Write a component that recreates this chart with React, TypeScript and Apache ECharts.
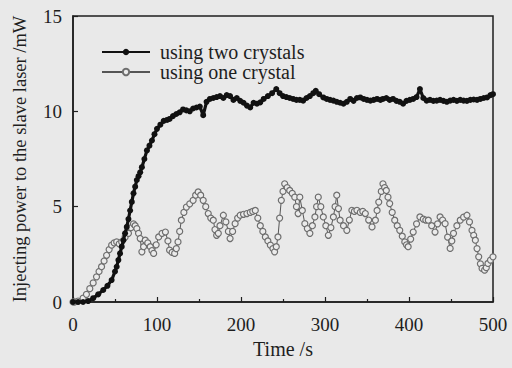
import React, { useEffect, useRef } from "react";
import * as echarts from "echarts";

const xTicks = [0, 100, 200, 300, 400, 500];
const yTicks = [0, 5, 10, 15];

const twoT = [0, 6, 12, 18, 24, 30, 36, 41, 46, 50, 52, 54, 56, 58, 60, 62, 64, 66, 68, 70, 72, 74, 76, 78, 80, 82, 85, 88, 91, 94, 97, 100, 104, 108, 112, 115, 119, 123, 127, 131, 135, 139, 143, 147, 151, 155, 159, 163, 167, 171, 175, 179, 183, 187, 191, 195, 199, 203, 207, 211, 215, 219, 223, 227, 232, 237, 242, 246, 250, 254, 258, 262, 266, 270, 274, 278, 282, 286, 289, 293, 298, 302, 306, 310, 314, 318, 322, 326, 330, 334, 338, 342, 346, 350, 354, 358, 362, 366, 369, 373, 377, 381, 385, 389, 393, 397, 401, 405, 409, 413, 417, 421, 425, 429, 433, 437, 441, 445, 449, 453, 457, 461, 465, 469, 473, 477, 481, 485, 489, 493, 497, 500];
const twoY = [0, 0, 0, 0.05, 0.2, 0.4, 0.63, 0.85, 1.15, 1.6, 1.85, 2.2, 2.55, 2.9, 3.24, 3.6, 3.94, 4.35, 4.8, 5.25, 5.7, 6.05, 6.4, 6.6, 6.8, 7.07, 7.5, 7.95, 8.2, 8.47, 8.8, 9.08, 9.3, 9.5, 9.55, 9.6, 9.75, 9.86, 9.95, 10.1, 10.05, 10.0, 10.15, 10.2, 10.25, 9.8, 10.5, 10.65, 10.7, 10.75, 10.8, 10.7, 10.85, 10.8, 10.6, 10.7, 10.55, 10.45, 10.3, 10.2, 10.45, 10.4, 10.47, 10.65, 10.8, 10.95, 11.17, 10.95, 10.8, 10.75, 10.7, 10.65, 10.6, 10.6, 10.56, 10.7, 10.8, 10.95, 11.08, 10.9, 10.73, 10.65, 10.6, 10.56, 10.5, 10.45, 10.4, 10.5, 10.65, 10.55, 10.7, 10.73, 10.65, 10.6, 10.56, 10.6, 10.65, 10.6, 10.65, 10.7, 10.6, 10.65, 10.55, 10.5, 10.4, 10.55, 10.6, 10.65, 10.75, 11.17, 10.7, 10.56, 10.6, 10.55, 10.56, 10.6, 10.55, 10.5, 10.56, 10.6, 10.55, 10.6, 10.56, 10.55, 10.6, 10.62, 10.6, 10.65, 10.7, 10.73, 10.85, 10.9];

const oneT = [0, 2, 6, 12, 16, 20, 24, 28, 31, 34, 37, 40, 43, 46, 49, 52, 55, 58, 62, 66, 69, 72, 74, 76, 78, 80, 82, 84, 86, 89, 92, 94, 96, 99, 102, 106, 110, 113, 115, 118, 121, 123, 125, 127, 129, 132, 135, 139, 143, 146, 149, 152, 155, 158, 161, 164, 167, 169, 171, 173, 175, 179, 182, 185, 187, 190, 193, 196, 199, 203, 207, 211, 214, 217, 220, 223, 226, 229, 232, 235, 238, 240, 242, 244, 246, 248, 250, 252, 255, 258, 261, 264, 266, 268, 270, 273, 276, 279, 282, 285, 288, 290, 292, 295, 298, 301, 304, 307, 310, 312, 314, 316, 318, 322, 326, 329, 332, 335, 338, 342, 345, 348, 352, 356, 360, 362, 364, 367, 369, 371, 373, 375, 377, 380, 383, 386, 389, 392, 395, 397, 399, 402, 405, 409, 413, 417, 420, 423, 427, 431, 434, 437, 440, 443, 446, 449, 451, 453, 457, 461, 465, 469, 472, 475, 477, 479, 481, 483, 485, 487, 490, 492, 494, 497, 500];
const oneY = [0, 0, 0.05, 0.2, 0.4, 0.7, 1.0, 1.32, 1.6, 1.85, 2.15, 2.45, 2.75, 2.98, 3.1, 3.15, 3.05, 3.15, 3.4, 3.6, 3.9, 4.1, 4.0, 3.85, 3.6, 3.33, 2.63, 2.9, 3.24, 3.1, 2.9, 2.7, 2.55, 3.0, 3.41, 3.6, 3.67, 3.2, 2.72, 2.6, 2.55, 2.8, 3.15, 3.7, 4.29, 4.7, 4.98, 5.15, 5.33, 5.6, 5.77, 5.6, 5.33, 5.0, 4.64, 4.4, 4.29, 3.8, 3.5, 3.6, 4.0, 4.55, 4.2, 3.7, 3.33, 3.7, 4.11, 4.4, 4.55, 4.6, 4.64, 4.7, 4.75, 4.8, 4.4, 4.0, 3.7, 3.41, 3.2, 2.98, 2.8, 2.63, 2.9, 3.41, 4.4, 5.33, 5.8, 6.2, 6.0, 5.85, 5.7, 5.5, 5.0, 4.64, 5.5, 4.8, 4.11, 3.85, 3.6, 4.0, 4.46, 5.0, 5.5, 5.0, 4.46, 4.0, 3.5, 3.9, 4.46, 5.0, 5.6, 4.9, 4.29, 4.0, 3.76, 4.3, 4.81, 4.75, 4.81, 4.7, 4.75, 4.64, 4.3, 3.94, 4.29, 4.8, 5.24, 5.8, 6.2, 6.0, 5.85, 5.5, 5.16, 4.7, 4.29, 4.0, 3.76, 3.45, 3.15, 3.0, 2.9, 3.3, 3.67, 4.1, 4.46, 4.35, 4.3, 4.29, 4.0, 3.67, 4.1, 4.46, 4.3, 4.11, 3.4, 2.81, 3.2, 3.6, 4.0, 4.29, 4.45, 4.55, 4.2, 3.76, 3.5, 3.24, 2.8, 2.37, 2.0, 1.76, 1.67, 1.8, 2.02, 2.2, 2.37];

const seriesNames = ["using two crystals", "using one crystal"];

const FONT = "'Liberation Serif', 'Times New Roman', 'DejaVu Serif', serif";
const INK = "#1e1e1e";

export default function App() {
  const ref = useRef<HTMLDivElement>(null);
  useEffect(() => {
    if (!ref.current) return;
    const chart = echarts.init(ref.current, null, { renderer: "svg" });
    const twoData = twoT.map((t, i) => [t, twoY[i]]);
    const oneData = oneT.map((t, i) => [t, oneY[i]]);
    chart.setOption({
      animation: false,
      backgroundColor: "#e9e9e9",
      textStyle: { fontFamily: FONT, color: INK },
      grid: {
        left: 73,
        right: 19,
        top: 16,
        bottom: 66,
        show: true,
        borderColor: INK,
        borderWidth: 1.5,
        backgroundColor: "transparent",
      },
      legend: {
        orient: "vertical",
        left: 96,
        top: 37,
        itemWidth: 48,
        itemHeight: 8,
        itemGap: 0,
        textStyle: { fontFamily: FONT, fontSize: 20, lineHeight: 17, color: INK, padding: [0, 0, 0, 5] },
        data: seriesNames,
      },
      xAxis: {
        type: "value",
        min: 0,
        max: 500,
        interval: 100,
        name: "Time /s",
        nameLocation: "middle",
        nameGap: 36,
        nameTextStyle: { fontFamily: FONT, fontSize: 20, color: INK },
        axisLine: { show: true, lineStyle: { color: INK, width: 1.5 } },
        axisTick: { show: true, inside: true, length: 5, lineStyle: { color: INK, width: 1.2 } },
        minorTick: { show: true, splitNumber: 2, length: 3, lineStyle: { color: INK, width: 1.2 } },
        splitLine: { show: false },
        axisLabel: {
          fontFamily: FONT,
          fontSize: 19,
          color: INK,
          margin: 13,
          formatter: (v: number) => (xTicks.includes(v) ? String(v) : ""),
        },
      },
      yAxis: {
        type: "value",
        min: 0,
        max: 15,
        interval: 5,
        name: "Injecting power to the slave laser /mW",
        nameLocation: "middle",
        nameGap: 44,
        nameTextStyle: { fontFamily: FONT, fontSize: 18.5, color: INK },
        axisLine: { show: true, lineStyle: { color: INK, width: 1.5 } },
        axisTick: { show: true, inside: true, length: 5, lineStyle: { color: INK, width: 1.2 } },
        splitLine: { show: false },
        axisLabel: {
          fontFamily: FONT,
          fontSize: 19,
          color: INK,
          margin: 11,
          formatter: (v: number) => (yTicks.includes(v) ? String(v) : ""),
        },
      },
      series: [
        {
          name: seriesNames[1],
          type: "line",
          data: oneData,
          symbol: "circle",
          symbolSize: 6,
          showAllSymbol: true,
          lineStyle: { color: "#555", width: 1 },
          itemStyle: { color: "#ebebeb", borderColor: "#6e6e6e", borderWidth: 1.2 },
          z: 2,
        },
        {
          name: seriesNames[0],
          type: "line",
          data: twoData,
          symbol: "circle",
          symbolSize: 6,
          showAllSymbol: true,
          lineStyle: { color: "#111", width: 3.2 },
          itemStyle: { color: "#111" },
          z: 3,
        },
      ],
    });
    return () => chart.dispose();
  }, []);
  return (
    <div
      ref={ref}
      style={{ position: "fixed", left: 0, top: 0, width: 512, height: 368 }}
    />
  );
}
